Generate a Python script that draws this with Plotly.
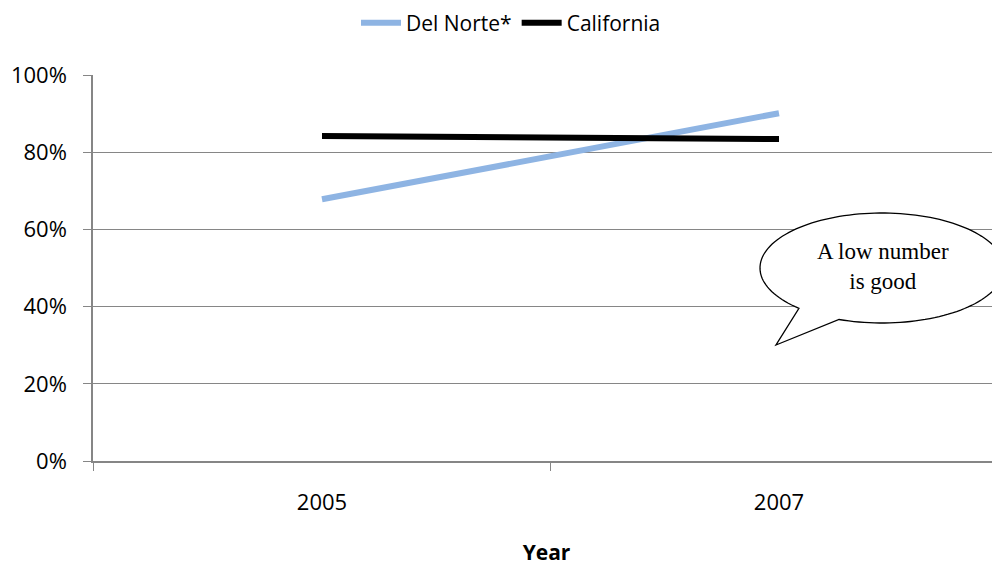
import numpy as np
import plotly.graph_objects as go

years = ["2005", "2007"]
del_norte = [0.678, 0.901]
california = [0.842, 0.834]
y_ticks = [0, 0.2, 0.4, 0.6, 0.8, 1.0]
callout_text = "A low number<br>is good"

OFF = 8  # page body margin offset
W, H = 1000 - OFF, 568 - OFF
L, R, T = 93 - OFF, 0, 75 - OFF
B = H - (461 - OFF)
pw, ph = W - L - R, H - T - B

def px2paper(px, py):
    # px, py: window pixel coords of the reference
    return (px - OFF - L) / pw, (H - B - (py - OFF)) / ph

fig = go.Figure()
fig.add_trace(go.Scatter(x=years, y=del_norte, mode="lines", name="Del Norte*",
                         line=dict(color="#8EB4E3", width=6)))
fig.add_trace(go.Scatter(x=years, y=california, mode="lines", name="California",
                         line=dict(color="#000000", width=6)))

# speech bubble path (pixels -> paper)
cx, cy, rx, ry = 882, 268, 122, 55
t0 = np.deg2rad(132.9)
t1 = np.deg2rad(360 + 110.6)
ts = np.linspace(t0, t1, 140)
pts = [(cx + rx * np.cos(t), cy + ry * np.sin(t)) for t in ts]
pts.append((776, 345))
path = ""
for i, (a, b) in enumerate(pts):
    xp, yp = px2paper(a, b)
    path += ("M" if i == 0 else "L") + f"{xp:.5f},{yp:.5f} "
path += "Z"
fig.add_shape(type="path", path=path, xref="paper", yref="paper",
              line=dict(color="black", width=1.3), fillcolor="white", layer="above")
tx, ty = px2paper(883, 266)
fig.add_annotation(x=tx, y=ty, xref="paper", yref="paper", text=callout_text,
                   showarrow=False, xanchor="center", yanchor="middle",
                   font=dict(family="Liberation Serif, Times New Roman, serif",
                             size=23, color="black"),
                   align="center")

# category positions: 2005 at window x=322, 2007 at 779
x0 = -((322 - OFF) - L) / 457
x1 = x0 + pw / 457

fig.update_layout(
    width=W, height=H,
    margin=dict(l=L, r=R, t=T, b=B, autoexpand=False),
    paper_bgcolor="white", plot_bgcolor="white",
    font=dict(family="Open Sans, sans-serif", size=22, color="black"),
    showlegend=True,
    legend=dict(orientation="h", xref="container", yref="container",
                x=(511 - OFF) / W, xanchor="center", y=1 - 15 / H, yanchor="middle",
                font=dict(size=21), itemwidth=40, tracegroupgap=0),
    xaxis=dict(type="category", range=[x0, x1], showgrid=False, automargin=False,
               showline=True, linecolor="#868686", linewidth=1.5,
               ticks="outside", tickson="boundaries", ticklen=8, tickcolor="#868686",
               ticklabelstandoff=21,
               title=dict(text="<b>Year</b>", standoff=30, font=dict(size=21))),
    yaxis=dict(range=[0, 1], tickvals=y_ticks, tickformat=".0%", automargin=False,
               showgrid=True, gridcolor="#868686", gridwidth=1.2,
               showline=True, linecolor="#868686", linewidth=1.5,
               ticks="outside", ticklen=8, tickcolor="#868686",
               ticklabelstandoff=12, zeroline=False),
)

fig.write_html("out.html")
